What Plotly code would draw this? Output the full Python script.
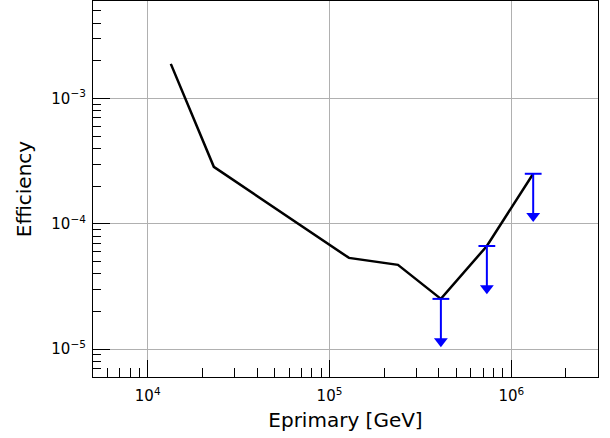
import plotly.graph_objects as go
import numpy as np

# Data
energy = [1.34e4, 2.31e4, 1.28e5, 2.38e5, 4.10e5, 7.34e5, 1.32e6]
efficiency = [1.89e-3, 2.85e-4, 5.35e-5, 4.71e-5, 2.52e-5, 6.66e-5, 2.51e-4]

ul_energy = [4.10e5, 7.34e5, 1.32e6]
ul_eff = [2.52e-5, 6.66e-5, 2.51e-4]
arrow_frac = 0.46  # arrow extends to this fraction of the limit

x_tickvals = [1e4, 1e5, 1e6]
x_ticktext = ["10<sup>4</sup>", "10<sup>5</sup>", "10<sup>6</sup>"]
y_tickvals = [1e-5, 1e-4, 1e-3]
y_ticktext = ["10<sup>−5</sup>", "10<sup>−4</sup>", "10<sup>−3</sup>"]

fig = go.Figure()

fig.add_trace(go.Scatter(x=energy, y=efficiency, mode="lines",
                         line=dict(color="black", width=2.5), showlegend=False))

# upper-limit arrows
xs, ys = [], []
for e, v in zip(ul_energy, ul_eff):
    xs += [e, e, None]
    ys += [v, v * arrow_frac, None]
fig.add_trace(go.Scatter(x=xs, y=ys, mode="lines",
                         line=dict(color="blue", width=2), showlegend=False))
fig.add_trace(go.Scatter(x=ul_energy, y=[v * arrow_frac for v in ul_eff], mode="markers",
                         marker=dict(symbol="triangle-down", size=12, color="blue",
                                     line=dict(width=0)), showlegend=False))
fig.add_trace(go.Scatter(x=ul_energy, y=ul_eff, mode="markers",
                         marker=dict(symbol="line-ew", size=12,
                                     line=dict(color="blue", width=2)), showlegend=False))

font = "DejaVu Sans, sans-serif"
fig.update_layout(
    width=610, height=438,
    margin=dict(l=93, r=12, t=1, b=61),
    plot_bgcolor="white", paper_bgcolor="white",
    font=dict(family=font, color="black"),
)
fig.update_xaxes(
    type="log", range=[np.log10(5000), np.log10(3.0e6)],
    tickvals=x_tickvals, ticktext=x_ticktext, tickfont=dict(size=15),
    ticklabelstandoff=5,
    ticks="inside", ticklen=17, tickwidth=1.2, tickcolor="black",
    showline=True, linecolor="black", linewidth=1.2, mirror=True,
    showgrid=True, gridcolor="#b0b0b0", gridwidth=1,
    minor=dict(ticks="inside", ticklen=9, tickwidth=1, tickcolor="black",
               dtick="D1", showgrid=False),
    title=dict(text="Eprimary [GeV]", font=dict(size=20), standoff=8),
    zeroline=False,
)
fig.update_yaxes(
    type="log", range=[np.log10(6.0e-6), np.log10(6.0e-3)],
    tickvals=y_tickvals, ticktext=y_ticktext, tickfont=dict(size=15),
    ticklabelstandoff=3,
    ticks="inside", ticklen=17, tickwidth=1.2, tickcolor="black",
    showline=True, linecolor="black", linewidth=1.2, mirror=True,
    showgrid=True, gridcolor="#b0b0b0", gridwidth=1,
    minor=dict(ticks="inside", ticklen=8, tickwidth=1, tickcolor="black",
               dtick="D1", showgrid=False),
    title=dict(text="Efficiency", font=dict(size=20), standoff=14),
    zeroline=False,
)

fig.write_html("out.html")
